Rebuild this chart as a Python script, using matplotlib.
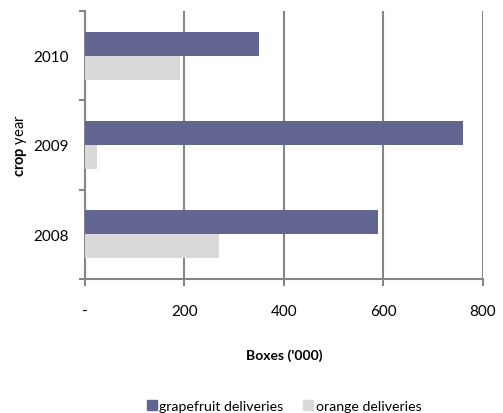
import matplotlib.pyplot as plt
import numpy as np
from matplotlib.patches import Patch

plt.rcParams['font.family'] = ['Lato', 'DejaVu Sans']
plt.rcParams['mathtext.fontset'] = 'custom'
plt.rcParams['mathtext.bf'] = 'Lato:bold'
plt.rcParams['mathtext.rm'] = 'Lato'

years = ['2008', '2009', '2010']
grapefruit = [590, 760, 350]
orange = [270, 25, 190]
xticks = [0, 200, 400, 600, 800]
xtick_labels = ['-', '200', '400', '600', '800']

grape_col = '#636591'
orange_col = '#d9d9d9'
axis_col = '#868686'

fig = plt.figure(figsize=(5.03, 4.14), dpi=100)
ax = fig.add_axes([0.169, 0.3237, 0.791, 0.6473])

y = np.arange(len(years))
h = 0.27
ax.barh(y + h / 2, grapefruit, height=h, color=grape_col, zorder=3)
ax.barh(y - h / 2, orange, height=h, color=orange_col, zorder=3)

ax.set_xlim(0, 800)
ax.set_ylim(-0.5, len(years) - 0.5)
ax.set_xticks(xticks)
ax.set_xticklabels(xtick_labels)
ax.set_yticks(y)
ax.set_yticklabels(years)
ax.set_yticks(np.arange(len(years) + 1) - 0.5, minor=True)

ax.grid(axis='x', color=axis_col, linewidth=1.5, zorder=0)
for s in ['top', 'right']:
    ax.spines[s].set_visible(False)
for s in ['left', 'bottom']:
    ax.spines[s].set_color(axis_col)
    ax.spines[s].set_linewidth(1.5)

ax.tick_params(axis='x', length=5, width=1.5, color=axis_col, pad=13,
               labelsize=11, labelcolor='#000000')
ax.tick_params(axis='y', which='major', length=0, pad=12, labelsize=11)
ax.tick_params(axis='y', which='minor', length=4.5, width=1.5, color=axis_col)

ax.set_xlabel("Boxes ('000)", fontsize=10, fontweight='bold', labelpad=22)
ax.set_ylabel(r'$\mathbf{crop}$ year', fontsize=10.5, labelpad=3)

handles = [Patch(color=grape_col, label='grapefruit deliveries'),
           Patch(color=orange_col, label='orange deliveries')]
fig.legend(handles=handles, loc='center', bbox_to_anchor=(0.565, 0.018),
           ncol=2, frameon=False, fontsize=10.2, handlelength=0.7,
           handleheight=0.7, handletextpad=0.2, columnspacing=1.4)

fig.savefig('out.png', dpi=100)
